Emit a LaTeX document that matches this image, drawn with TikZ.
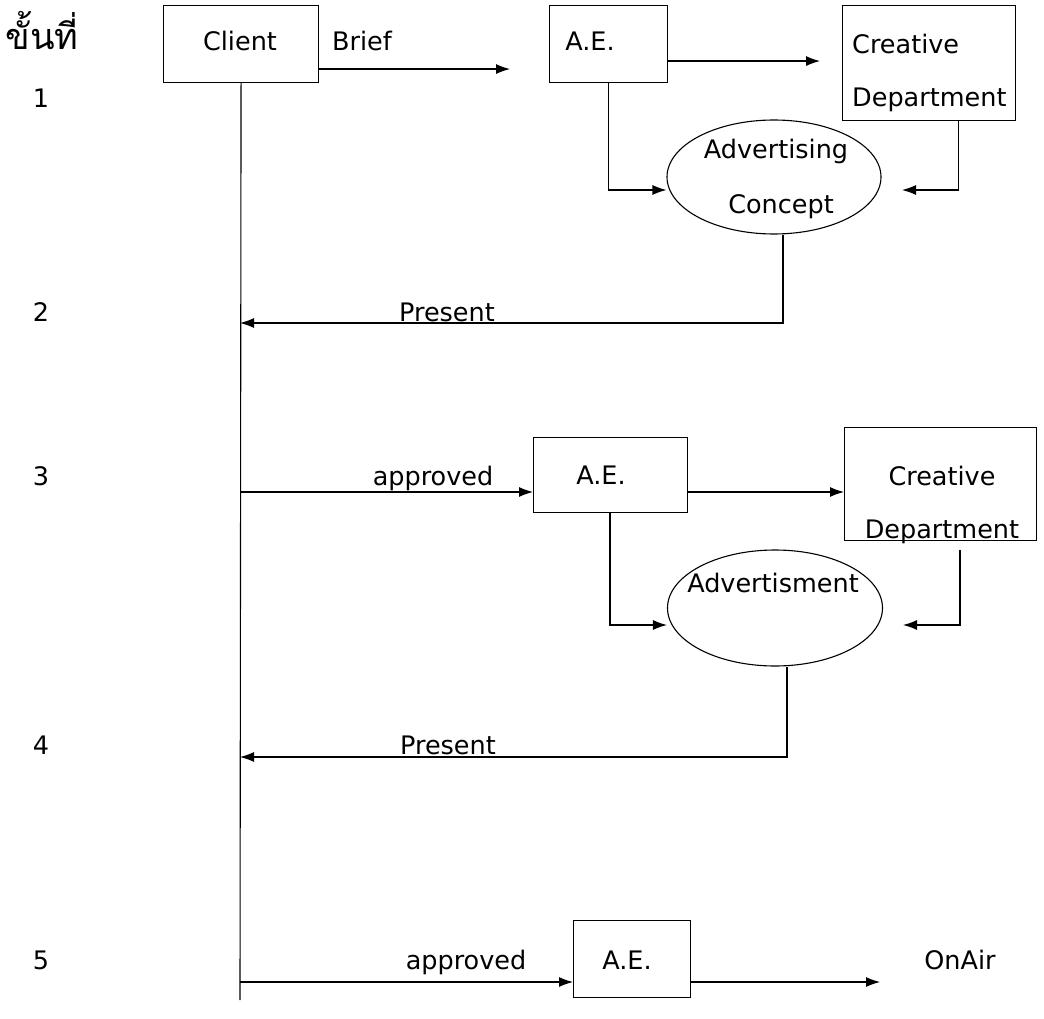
\documentclass[tikz,border=0pt]{standalone}
\usepackage{fontspec}
\setmainfont{DejaVu Sans}
\newfontfamily\thaifont[Script=Thai]{Loma}
\usetikzlibrary{shapes.geometric,arrows.meta}
\begin{document}
\begin{tikzpicture}[x=1pt,y=-1pt,
  font=\fontsize{25.5}{30}\selectfont,
  ln/.style={line width=1.1pt},
  arr/.style={ln,-{Latex[length=14pt,width=10pt]}},
  box/.style={draw,line width=1.1pt,rectangle,inner sep=0pt,anchor=north west},
  ell/.style={draw,line width=1.1pt,ellipse,inner sep=0pt},
  txt/.style={inner sep=0pt,anchor=base},
  txtl/.style={inner sep=0pt,anchor=base west}]
\path[use as bounding box,fill=white] (0,0) rectangle (1044,1019);

% step labels
\node[txt,font=\thaifont\fontsize{36}{40}\selectfont] (th) at (42,50) {ขั้นที่};
\node[txt] (n1) at (41,108) {1};
\node[txt] (n2) at (41,321) {2};
\node[txt] (n3) at (41,485) {3};
\node[txt] (n4) at (41,754) {4};
\node[txt] (n5) at (41,969) {5};

% row 1
\node[box,minimum width=155pt,minimum height=77pt] (client) at (163,5) {};
\node[txt] (tclient) at (240,51) {Client};
\node[txt] (tbrief) at (362,51) {Brief};
\node[box,minimum width=118pt,minimum height=77pt] (ae1) at (549,5) {};
\node[txt] (tae1) at (590,51) {A.E.};
\node[box,minimum width=173pt,minimum height=115pt] (cd1) at (842,5) {};
\node[txtl] (tcd1a) at (852,54) {Creative};
\node[txtl] (tcd1b) at (852,107) {Department};
\node[ell,minimum width=214pt,minimum height=114pt] (ell1) at (774,177) {};
\node[txt] (tell1a) at (776,159) {Advertising};
\node[txt] (tell1b) at (781,214) {Concept};
\node[txt] (tp1) at (447,321) {Present};

\coordinate (cend) at (240,1000);
\coordinate (c1) at (902,190);
\coordinate (p1) at (240,323);

\draw[ln] (client.south) -- (cend);
\draw[arr,shorten >=39pt] ([yshift=-25pt]client.east) -- ([yshift=-25pt]client.east -| ae1.west);
\draw[arr,shorten >=22pt] ([yshift=-17pt]ae1.east) -- ([yshift=-17pt]ae1.east -| cd1.west);
\draw[arr] (ae1.south) |- ([yshift=-13pt]ell1.west);
\draw[arr] ([xshift=29.5pt]cd1.south) |- (c1);
\draw[arr] ([xshift=9pt]ell1.south) |- (p1);

% row 3
\node[txt] (tap1) at (433,485) {approved};
\node[box,minimum width=154pt,minimum height=75pt] (ae2) at (533,437) {};
\node[txt] (tae2) at (601,484) {A.E.};
\node[box,minimum width=192pt,minimum height=113pt] (cd2) at (844,427) {};
\node[txt] (tcd2a) at (942,485) {Creative};
\node[txt] (tcd2b) at (942,538) {Department};
\node[ell,minimum width=215pt,minimum height=116pt] (ell2) at (775,608) {};
\node[txt] (tell2) at (773,592) {Advertisment};
\node[txt] (tp2) at (448,754) {Present};

\coordinate (a3) at (240,492);
\coordinate (c2t) at (960,550);
\coordinate (c2) at (903,625);
\coordinate (p2) at (240,757);

\draw[arr] (a3) -- (a3 -| ae2.west);
\draw[arr] (a3 -| ae2.east) -- (a3 -| cd2.west);
\draw[arr] (ae2.south -| 610,0) |- ([yshift=-17pt]ell2.west);
\draw[arr] (c2t) |- (c2);
\draw[arr] ([xshift=12pt]ell2.south) |- (p2);

% row 5
\node[txt] (tap2) at (466,969) {approved};
\node[box,minimum width=117pt,minimum height=77pt] (ae3) at (573,920) {};
\node[txt] (tae3) at (627,969) {A.E.};
\node[txt] (tonair) at (960,969) {OnAir};

\coordinate (a5) at (240,982);
\coordinate (oe) at (880,982);
\draw[arr] (a5) -- (a5 -| ae3.west);
\draw[arr] (a5 -| ae3.east) -- (oe);
\end{tikzpicture}
\end{document}
